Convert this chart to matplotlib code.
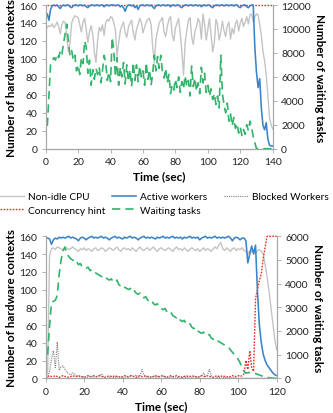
import numpy as np
import matplotlib
matplotlib.use("Agg")
import matplotlib.pyplot as plt

plt.rcParams["font.family"] = ["Lato", "DejaVu Sans"]

# ── Data: top chart (140 s run) ───────────────────────────────────────────────
top_time = np.arange(1, 141)
top_cpu = [
    135, 137, 136, 139, 135, 137, 141, 136, 128, 138,
    142, 140, 126, 108, 118, 140, 145, 148, 147, 146,
    138, 130, 141, 145, 133, 118, 130, 137, 128, 108,
    96, 120, 135, 131, 138, 126, 140, 144, 142, 147,
    146, 140, 132, 103, 118, 131, 137, 141, 129, 124,
    135, 140, 143, 130, 121, 133, 138, 145, 141, 129,
    135, 141, 144, 145, 138, 113, 96, 122, 131, 140,
    143, 146, 130, 125, 136, 144, 147, 127, 120, 134,
    140, 145, 128, 108, 82, 118, 131, 143, 146, 125,
    116, 130, 136, 145, 141, 122, 150, 138, 121, 133,
    145, 126, 108, 118, 144, 138, 121, 130, 142, 131,
    125, 137, 141, 122, 134, 128, 139, 143, 131, 140,
    145, 136, 141, 147, 139, 149, 150, 141, 147, 150,
    149, 138, 126, 108, 98, 82, 60, 35, 27, 22,
]
top_active = [
    150, 143, 155, 159, 160, 159, 160, 158, 156, 159,
    160, 159, 160, 160, 158, 157, 159, 160, 160, 159,
    160, 160, 159, 160, 158, 157, 159, 160, 160, 159,
    160, 160, 159, 160, 160, 158, 160, 160, 159, 160,
    160, 160, 159, 160, 160, 158, 159, 157, 153, 158,
    160, 160, 159, 160, 157, 159, 155, 159, 160, 160,
    159, 160, 160, 159, 160, 158, 156, 159, 160, 160,
    159, 160, 160, 159, 160, 160, 158, 160, 160, 159,
    160, 160, 158, 157, 159, 160, 160, 159, 160, 160,
    159, 160, 160, 159, 160, 158, 160, 160, 159, 160,
    160, 158, 157, 159, 160, 160, 159, 160, 160, 159,
    160, 160, 159, 160, 160, 159, 160, 160, 158, 157,
    159, 160, 160, 158, 157, 159, 160, 160, 112, 85,
    68, 78, 45, 26, 21, 29, 11, 4, 3, 3,
]
top_blocked = [0] * 140
top_hint = [160] * 140
top_waiting = [
    1900, 4500, 7000, 7300, 7600, 7400, 7900, 7600, 8200, 7900,
    8800, 9600, 10400, 8900, 7800, 8200, 7400, 7800, 6500, 7000,
    6200, 7600, 7100, 9000, 8500, 6300, 7400, 5300, 6600, 5800,
    6700, 6200, 6800, 5500, 6500, 7800, 7200, 5700, 6400, 5600,
    9300, 8200, 6000, 7600, 5300, 6800, 6000, 7200, 5400, 7000,
    5600, 6600, 5200, 7200, 5700, 7000, 5600, 6900, 6000, 6500,
    5300, 7200, 5800, 6600, 5300, 6300, 7800, 6500, 7700, 6700,
    7800, 6400, 5900, 6700, 5500, 6200, 4600, 5300, 4900, 5800,
    5100, 6000, 4700, 5600, 5000, 6100, 5200, 5700, 4400, 6900,
    5200, 5900, 4800, 5500, 4600, 6800, 5500, 6300, 4700, 5300,
    4400, 5000, 4100, 4600, 3700, 4400, 3400, 7800, 4600, 3600,
    3000, 3800, 2300, 2900, 1900, 2600, 1700, 2100, 1300, 1800,
    1100, 1600, 1200, 2000, 1500, 2300, 1800, 1000, 500, 0,
    0, 0, 0, 0, 0, 0, 0, 0, 0, 0,
]

# ── Data: bottom chart (120 s run) ────────────────────────────────────────────
bot_time = np.arange(1, 121)
bot_cpu = [
    5, 138, 146, 147, 145, 148, 147, 146, 144, 146,
    147, 145, 146, 148, 146, 145, 143, 146, 145, 147,
    144, 146, 145, 143, 146, 147, 144, 145, 147, 146,
    143, 145, 147, 146, 144, 146, 148, 145, 143, 146,
    147, 145, 146, 144, 147, 145, 143, 146, 148, 145,
    144, 146, 147, 144, 146, 148, 145, 143, 146, 147,
    145, 144, 146, 147, 145, 143, 146, 148, 145, 146,
    144, 147, 145, 143, 146, 147, 145, 144, 146, 143,
    145, 147, 144, 146, 145, 143, 146, 148, 146, 150,
    153, 146, 144, 147, 145, 143, 146, 147, 144, 146,
    145, 147, 144, 143, 140, 144, 142, 145, 141, 144,
    145, 143, 140, 128, 115, 98, 80, 62, 44, 32,
]
bot_active = [
    158, 157, 151, 156, 158, 157, 159, 158, 159, 158,
    159, 160, 158, 159, 158, 157, 155, 158, 159, 158,
    156, 158, 159, 160, 158, 159, 158, 159, 160, 158,
    159, 158, 156, 158, 159, 160, 158, 159, 158, 157,
    159, 158, 159, 160, 158, 159, 158, 156, 158, 159,
    160, 158, 159, 158, 159, 158, 157, 159, 158, 159,
    160, 158, 159, 158, 159, 160, 158, 159, 158, 159,
    157, 159, 158, 159, 160, 158, 159, 158, 159, 156,
    158, 159, 160, 158, 159, 158, 159, 160, 158, 159,
    158, 159, 158, 159, 160, 158, 155, 158, 159, 158,
    156, 158, 158, 155, 130, 140, 149, 140, 150, 98,
    60, 40, 27, 20, 15, 12, 9, 6, 4, 3,
]
bot_blocked = [
    0, 8, 22, 31, 12, 41, 9, 13, 14, 10,
    7, 5, 4, 6, 5, 2, 3, 1, 2, 1,
    2, 1, 3, 1, 2, 1, 2, 3, 5, 2,
    1, 2, 1, 2, 1, 1, 2, 1, 2, 1,
    1, 2, 1, 2, 3, 2, 4, 1, 3, 10,
    4, 2, 1, 2, 1, 3, 1, 2, 1, 2,
    3, 1, 2, 1, 2, 1, 2, 1, 1, 2,
    1, 2, 1, 1, 2, 1, 2, 1, 1, 2,
    3, 6, 2, 3, 10, 3, 1, 2, 1, 1,
    2, 1, 1, 1, 0, 1, 0, 1, 0, 0,
    0, 0, 0, 0, 0, 0, 0, 0, 0, 0,
    0, 0, 0, 0, 0, 0, 0, 0, 0, 0,
]
bot_hint = [
    2, 3, 2, 2, 3, 2, 1, 2, 3, 2,
    2, 1, 2, 3, 2, 2, 3, 2, 2, 1,
    2, 3, 2, 2, 3, 2, 2, 3, 2, 2,
    1, 2, 3, 2, 2, 3, 2, 2, 1, 2,
    3, 2, 2, 3, 2, 2, 1, 2, 3, 2,
    2, 3, 2, 2, 1, 2, 3, 2, 2, 3,
    2, 2, 1, 2, 3, 2, 2, 3, 2, 2,
    1, 2, 3, 2, 2, 3, 2, 2, 1, 2,
    3, 2, 2, 3, 2, 2, 1, 2, 3, 2,
    2, 3, 2, 2, 1, 2, 3, 2, 2, 3,
    2, 3, 5, 20, 10, 31, 12, 8, 90, 100,
    110, 118, 135, 148, 160, 160, 160, 160, 160, 160,
]
bot_waiting = [
    1000, 2200, 3200, 3250, 3300, 3500, 4400, 5000, 5400, 5550,
    5250, 5150, 5050, 5000, 4900, 4950, 4800, 4850, 4700, 4700,
    4650, 4700, 4550, 4600, 4500, 4450, 4400, 4350, 4300, 4250,
    4300, 4200, 4150, 4200, 4100, 4050, 4150, 3950, 3900, 3950,
    3850, 3800, 3750, 3800, 3650, 3700, 3600, 3550, 3600, 3450,
    3400, 3450, 3300, 3250, 3300, 3150, 3100, 3150, 3000, 2950,
    2900, 2950, 2800, 2750, 2800, 2650, 2600, 2550, 2600, 2450,
    2400, 2450, 2300, 2250, 2300, 2150, 2100, 2150, 2000, 1950,
    1900, 1950, 1850, 1800, 1850, 1700, 1650, 1700, 1600, 1550,
    1500, 1450, 1400, 1350, 1300, 1200, 1100, 1000, 900, 800,
    650, 450, 300, 220, 230, 250, 240, 220, 200, 170,
    140, 110, 80, 60, 40, 25, 10, 5, 0, 0,
]

# ── Styles ────────────────────────────────────────────────────────────────────
C_CPU, C_ACT, C_BLK = "#c4c4c4", "#3a84c9", "#7f7f7f"
C_HINT, C_WAIT, C_AX = "#e0302c", "#33b36b", "#a6a6a6"
FS_TICK, FS_LAB, FS_LEG = 7.5, 8.5, 7.3

W, H = 333, 414
fig = plt.figure(figsize=(W / 100, H / 100), dpi=100)


def px_axes(x0, y0, x1, y1):
    return fig.add_axes([x0 / W, 1 - y1 / H, (x1 - x0) / W, (y1 - y0) / H])


def style(ax, ax2, xmax, ymax2, ystep2):
    ax.set_xlim(0, xmax)
    ax.set_ylim(0, 160)
    ax.set_xticks(np.arange(0, xmax + 1, 20))
    ax.set_yticks(np.arange(0, 161, 20))
    ax2.set_ylim(0, ymax2)
    ax2.set_yticks(np.arange(0, ymax2 + 1, ystep2))
    for a in (ax, ax2):
        for s in a.spines.values():
            s.set_color(C_AX)
            s.set_linewidth(0.8)
        a.spines["top"].set_visible(False)
        a.tick_params(labelsize=FS_TICK, length=3, width=0.6, color=C_AX,
                      labelcolor="#222222", pad=3)
    ax.set_xlabel("Time (sec)", fontsize=FS_LAB, fontweight="bold", labelpad=3)
    ax.set_ylabel("Number of hardware contexts", fontsize=FS_LAB,
                  fontweight="bold", labelpad=2)
    ax2.set_ylabel("Number of waiting tasks", fontsize=FS_LAB, fontweight="bold",
                   rotation=-90, labelpad=10)


def draw(ax, t, cpu, active, blocked, hint, waiting):
    ax.plot(t, cpu, color=C_CPU, lw=1.0, zorder=2)
    ax.plot(t, hint, color=C_HINT, lw=1.0, ls=(0, (1.2, 1.0)), zorder=2,
            clip_on=False)
    ax.plot(t, active, color=C_ACT, lw=1.15, zorder=3, clip_on=False)
    ax.plot(t, blocked, color=C_BLK, lw=0.8, ls=(0, (1, 1)), zorder=3,
            clip_on=False)
    ax2 = ax.twinx()
    ax2.plot(t, waiting, color=C_WAIT, lw=1.2, ls=(0, (5, 3)), clip_on=False)
    return ax2


# ── Top chart ─────────────────────────────────────────────────────────────────
ax_top = px_axes(45.7, 6, 272.7, 149.7)
ax_top2 = draw(ax_top, top_time, top_cpu, top_active, top_blocked,
               top_hint, top_waiting)
style(ax_top, ax_top2, 140, 12000, 2000)

# ── Bottom chart ──────────────────────────────────────────────────────────────
ax_bot = px_axes(45.7, 237.3, 276.7, 379.3)
ax_bot2 = draw(ax_bot, bot_time, bot_cpu, bot_active, bot_blocked,
               bot_hint, bot_waiting)
style(ax_bot, ax_bot2, 120, 6000, 1000)

# ── Shared legend between the charts: three equal-width columns ──────────────
h_cpu = plt.Line2D([], [], color=C_CPU, lw=1.0)
h_hint = plt.Line2D([], [], color=C_HINT, lw=1.0, ls=(0, (1.2, 1.0)))
h_act = plt.Line2D([], [], color=C_ACT, lw=1.15)
h_wait = plt.Line2D([], [], color=C_WAIT, lw=1.2, ls=(0, (5, 3)))
h_blk = plt.Line2D([], [], color=C_BLK, lw=0.8, ls=(0, (1, 1)))
columns = [
    ([h_cpu, h_hint], ["Non-idle CPU", "Concurrency hint"], 0),
    ([h_act, h_wait], ["Active workers", "Waiting tasks"], 112),
    ([h_blk], ["Blocked Workers"], 224),
]
for handles, labels, x0 in columns:
    fig.legend(handles, labels, loc="upper left",
               bbox_to_anchor=(x0 / W, 1 - 193 / H), frameon=False,
               fontsize=FS_LEG, borderpad=0, borderaxespad=0,
               handlelength=2.4, handletextpad=0.35, labelspacing=0.45)

fig.savefig("out.png", dpi=100)
